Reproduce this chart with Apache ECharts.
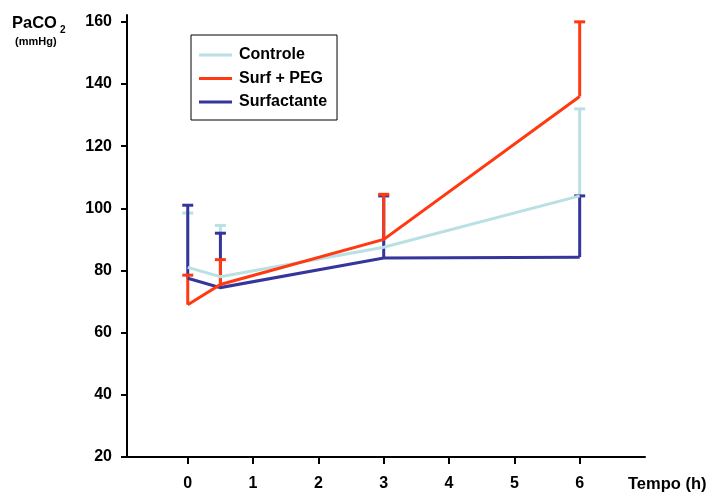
<!DOCTYPE html>
<html>
<head>
<meta charset="utf-8">
<script src="https://cdn.jsdelivr.net/npm/echarts@6/dist/echarts.min.js"></script>
<style>html,body{margin:0;padding:0;background:#fff;}#c{width:710px;height:495px;}</style>
</head>
<body>
<div id="c"></div>
<script>
const times = [0, 0.5, 3, 6];
const xTicks = [0, 1, 2, 3, 4, 5, 6];
const yTicks = [20, 40, 60, 80, 100, 120, 140, 160];
const seriesNames = ['Controle', 'Surf + PEG', 'Surfactante'];
const controleMean = [81, 78, 87.5, 104];
const controleUpper = [98.5, 94.5, 104.5, 132];
const pegMean = [69, 75.5, 90, 136];
const pegUpper = [78.5, 83.5, 104.5, 160];
const surfMean = [77.5, 74.5, 84, 84.3];
const surfUpper = [101, 92, 104, 104];

const colors = { 'Controle': '#b9e0e3', 'Surf + PEG': '#ff3a12', 'Surfactante': '#35359b' };
const font = 'Arial, "Liberation Sans", sans-serif';

function lineSeries(name, mean) {
  return {
    name: name, type: 'line', symbol: 'none', z: 3,
    data: times.map((t, i) => [t, mean[i]]),
    lineStyle: { color: colors[name], width: 3, join: 'miter' },
    itemStyle: { color: colors[name] }
  };
}
function errSeries(name, mean, upper) {
  return {
    name: 'eb-' + name, type: 'custom', z: 3,
    data: times.map((t, i) => [t, mean[i], upper[i]]),
    encode: { x: 0, y: [1, 2] },
    renderItem: function (params, api) {
      const p0 = api.coord([api.value(0), api.value(1)]);
      const p1 = api.coord([api.value(0), api.value(2)]);
      const hw = 5.5;
      return {
        type: 'group',
        children: [
          { type: 'line', shape: { x1: p0[0], y1: p0[1], x2: p1[0], y2: p1[1] },
            style: { stroke: colors[name], lineWidth: 3 } },
          { type: 'line', shape: { x1: p1[0] - hw, y1: p1[1], x2: p1[0] + hw, y2: p1[1] },
            style: { stroke: colors[name], lineWidth: 3 } }
        ]
      };
    }
  };
}

const chart = echarts.init(document.getElementById('c'), null, { renderer: 'canvas' });
chart.setOption({
  animation: false,
  backgroundColor: '#fff',
  grid: { left: 127, right: 65, top: 15, bottom: 38, containLabel: false },
  legend: {
    data: seriesNames,
    orient: 'vertical', left: 191, top: 35,
    backgroundColor: '#fff',
    borderColor: '#000', borderWidth: 1, borderRadius: 0,
    padding: [12, 10, 10, 8],
    itemWidth: 33, itemHeight: 3, itemGap: 7.5,
    icon: 'rect',
    selectedMode: false,
    textStyle: { fontFamily: font, fontWeight: 'bold', fontSize: 16, color: '#000', padding: [0, 0, 0, 2] }
  },
  xAxis: {
    type: 'value', min: -0.93, max: 7,
    axisLine: { show: true, onZero: false, lineStyle: { color: '#000', width: 2 } },
    axisTick: { show: true, inside: false, length: 7, customValues: xTicks, lineStyle: { color: '#000', width: 2 } },
    axisLabel: { customValues: xTicks, margin: 19, fontFamily: font, fontWeight: 'bold', fontSize: 16, color: '#000' },
    splitLine: { show: false }
  },
  yAxis: {
    type: 'value', min: 20, max: 162.2,
    axisLine: { show: true, onZero: false, lineStyle: { color: '#000', width: 2 } },
    axisTick: { show: true, inside: false, length: 6, customValues: yTicks, lineStyle: { color: '#000', width: 2 } },
    axisLabel: { customValues: yTicks, margin: 15, fontFamily: font, fontWeight: 'bold', fontSize: 16, color: '#000' },
    splitLine: { show: false }
  },
  graphic: [
    { type: 'text', left: 12, top: 15, style: { text: 'PaCO', font: 'bold 16.5px ' + font, fill: '#000' } },
    { type: 'text', left: 60, top: 25, style: { text: '2', font: 'bold 10px ' + font, fill: '#000' } },
    { type: 'text', left: 15, top: 36, style: { text: '(mmHg)', font: 'bold 11px ' + font, fill: '#000' } },
    { type: 'text', left: 628, top: 476, style: { text: 'Tempo (h)', font: 'bold 16.5px ' + font, fill: '#000' } }
  ],
  series: [
    errSeries('Controle', controleMean, controleUpper),
    lineSeries('Controle', controleMean),
    errSeries('Surfactante', surfMean, surfUpper),
    lineSeries('Surfactante', surfMean),
    errSeries('Surf + PEG', pegMean, pegUpper),
    lineSeries('Surf + PEG', pegMean)
  ]
});
</script>
</body>
</html>
